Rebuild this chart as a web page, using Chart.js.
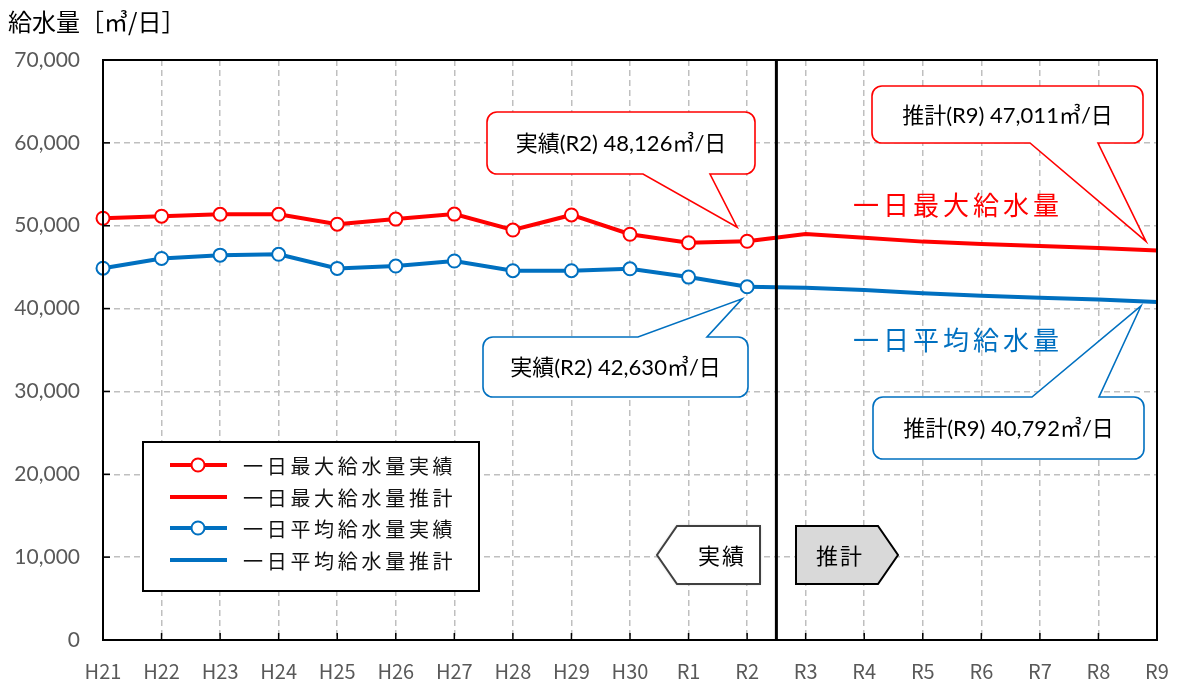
<!DOCTYPE html>
<html><head><meta charset="utf-8">
<script src="https://cdn.jsdelivr.net/npm/chart.js@4"></script>
<style>html,body{margin:0;padding:0;background:#fff;overflow:hidden}</style>
</head><body>
<canvas id="c" width="1178" height="686"></canvas>
<script>
// ---- data ----
const categories = ['H21','H22','H23','H24','H25','H26','H27','H28','H29','H30','R1','R2','R3','R4','R5','R6','R7','R8','R9'];
const maxActual   = [50900, 51150, 51380, 51380, 50180, 50800, 51400, 49480, 51300, 48970, 47950, 48126];
const avgActual   = [44870, 46050, 46450, 46550, 44850, 45130, 45740, 44570, 44570, 44800, 43800, 42630];
const maxForecast = [48126, 49000, 48560, 48080, 47800, 47550, 47300, 47011]; // R2..R9
const avgForecast = [42630, 42500, 42240, 41840, 41560, 41320, 41100, 40792]; // R2..R9
const seriesNames = ['一日最大給水量実績','一日最大給水量推計','一日平均給水量実績','一日平均給水量推計'];
const yTickValues = [0, 10000, 20000, 30000, 40000, 50000, 60000, 70000];
const yTitle = '給水量［㎥/日］';
const lastActualIdx = maxActual.length - 1;
const forecastStart = categories.length - maxForecast.length;

const RED = '#FF0000', BLUE = '#0070C0';
const fmt = v => v.toLocaleString('en-US');
const padF = arr => Array(forecastStart).fill(null).concat(arr);

const JP = "'Noto Sans CJK JP'";

function roundCallout(ctx, b, color, text, textFont) {
  const {l, t, r, bt, rad, ptr} = b;
  ctx.save();
  ctx.beginPath();
  ctx.moveTo(l + rad, t);
  if (ptr.side === 'top') {
    ctx.lineTo(ptr.a, t); ctx.lineTo(ptr.tx, ptr.ty); ctx.lineTo(ptr.b, t);
  }
  ctx.lineTo(r - rad, t);
  ctx.arcTo(r, t, r, t + rad, rad);
  ctx.lineTo(r, bt - rad);
  ctx.arcTo(r, bt, r - rad, bt, rad);
  if (ptr.side === 'bottom') {
    ctx.lineTo(ptr.b, bt); ctx.lineTo(ptr.tx, ptr.ty); ctx.lineTo(ptr.a, bt);
  }
  ctx.lineTo(l + rad, bt);
  ctx.arcTo(l, bt, l, bt - rad, rad);
  ctx.lineTo(l, t + rad);
  ctx.arcTo(l, t, l + rad, t, rad);
  ctx.closePath();
  ctx.fillStyle = '#fff';
  ctx.fill();
  ctx.lineWidth = 1.6;
  ctx.strokeStyle = color;
  ctx.lineJoin = 'miter';
  ctx.stroke();
  ctx.fillStyle = '#000';
  ctx.font = textFont;
  ctx.textAlign = 'center';
  ctx.textBaseline = 'middle';
  ctx.fillText(text, (l + r) / 2, (t + bt) / 2 + 1);
  ctx.restore();
}

const overlay = {
  id: 'overlay',
  afterDatasetsDraw(chart) {
    const ctx = chart.ctx;
    const ca = chart.chartArea;
    const xs = chart.scales.x, ys = chart.scales.y;

    // inward tick marks
    ctx.save();
    ctx.strokeStyle = '#000';
    ctx.lineWidth = 1.5;
    yTickValues.forEach(v => {
      const y = ys.getPixelForValue(v);
      ctx.beginPath(); ctx.moveTo(ca.left, y); ctx.lineTo(ca.left + 7, y); ctx.stroke();
    });
    categories.forEach((c, i) => {
      const x = xs.getPixelForValue(i);
      ctx.beginPath(); ctx.moveTo(x, ca.bottom); ctx.lineTo(x, ca.bottom - 7); ctx.stroke();
    });
    // frame
    ctx.lineWidth = 2;
    ctx.strokeRect(ca.left, ca.top, ca.right - ca.left, ca.bottom - ca.top);
    // divider between actual and forecast
    const xd = xs.getPixelForValue(lastActualIdx + 0.5);
    ctx.lineWidth = 3;
    ctx.beginPath(); ctx.moveTo(xd, ca.top); ctx.lineTo(xd, ca.bottom); ctx.stroke();
    ctx.restore();

    // callouts
    const cf = "22px Lato, " + JP;
    const xR2 = xs.getPixelForValue(lastActualIdx), xR9 = xs.getPixelForValue(categories.length - 1);
    roundCallout(ctx, {l: 487, t: 112, r: 755, bt: 174, rad: 10,
      ptr: {side: 'bottom', a: 643, b: 710, tx: xR2 - 10, ty: ys.getPixelForValue(maxActual[lastActualIdx]) - 14}},
      RED, `実績(${categories[lastActualIdx]}) ${fmt(maxActual[lastActualIdx])}㎥/日`, cf);
    roundCallout(ctx, {l: 872, t: 86, r: 1143, bt: 143, rad: 10,
      ptr: {side: 'bottom', a: 1030, b: 1098, tx: xR9 - 11, ty: ys.getPixelForValue(maxForecast[maxForecast.length - 1]) - 9}},
      RED, `推計(${categories[categories.length - 1]}) ${fmt(maxForecast[maxForecast.length - 1])}㎥/日`, cf);
    roundCallout(ctx, {l: 483, t: 337, r: 748, bt: 397, rad: 10,
      ptr: {side: 'top', a: 638, b: 707, tx: xR2 - 5, ty: ys.getPixelForValue(avgActual[lastActualIdx]) + 12}},
      BLUE, `実績(${categories[lastActualIdx]}) ${fmt(avgActual[lastActualIdx])}㎥/日`, cf);
    roundCallout(ctx, {l: 873, t: 397, r: 1144, bt: 459, rad: 10,
      ptr: {side: 'top', a: 1032, b: 1099, tx: xR9 - 16, ty: ys.getPixelForValue(avgForecast[avgForecast.length - 1]) + 4}},
      BLUE, `推計(${categories[categories.length - 1]}) ${fmt(avgForecast[avgForecast.length - 1])}㎥/日`, cf);

    // series labels
    ctx.save();
    ctx.font = "26px " + JP;
    ctx.letterSpacing = '4px';
    ctx.textBaseline = 'middle';
    ctx.textAlign = 'left';
    ctx.fillStyle = RED;
    ctx.fillText('一日最大給水量', 853, 205);
    ctx.fillStyle = BLUE;
    ctx.fillText('一日平均給水量', 853, 340);
    ctx.restore();

    // actual / forecast arrows
    ctx.save();
    ctx.lineJoin = 'miter';
    // 実績 (pointing left)
    ctx.beginPath();
    ctx.moveTo(677, 526); ctx.lineTo(760, 526); ctx.lineTo(760, 584); ctx.lineTo(677, 584); ctx.lineTo(657, 555); ctx.closePath();
    ctx.shadowColor = 'rgba(0,0,0,0.35)'; ctx.shadowBlur = 3;
    ctx.fillStyle = '#fff'; ctx.fill();
    ctx.shadowColor = 'transparent';
    ctx.strokeStyle = '#404040'; ctx.lineWidth = 2; ctx.stroke();
    // 推計 (pointing right)
    ctx.beginPath();
    ctx.moveTo(796, 526); ctx.lineTo(878, 526); ctx.lineTo(898, 555); ctx.lineTo(878, 584); ctx.lineTo(796, 584); ctx.closePath();
    ctx.fillStyle = '#D9D9D9'; ctx.fill();
    ctx.strokeStyle = '#000'; ctx.lineWidth = 2; ctx.stroke();
    ctx.fillStyle = '#000';
    ctx.font = "22px " + JP;
    ctx.letterSpacing = '2px';
    ctx.textAlign = 'center'; ctx.textBaseline = 'middle';
    ctx.fillText('実績', 722, 556);
    ctx.fillText('推計', 840, 556);
    ctx.restore();

    // legend
    ctx.save();
    ctx.fillStyle = '#fff';
    ctx.fillRect(143, 442, 336, 149);
    ctx.strokeStyle = '#000'; ctx.lineWidth = 2;
    ctx.strokeRect(143, 442, 336, 149);
    const rowsY = [465, 497, 528, 560];
    chart.data.datasets.forEach((ds, i) => {
      const y = rowsY[i];
      ctx.strokeStyle = ds.borderColor; ctx.lineWidth = 4; ctx.lineCap = 'butt';
      ctx.beginPath(); ctx.moveTo(170, y); ctx.lineTo(227, y); ctx.stroke();
      if (ds.pointRadius > 0) {
        ctx.beginPath(); ctx.arc(198, y, 6.5, 0, Math.PI * 2);
        ctx.fillStyle = '#fff'; ctx.fill();
        ctx.lineWidth = 2; ctx.strokeStyle = ds.borderColor; ctx.stroke();
      }
      ctx.fillStyle = '#111';
      ctx.font = "20px " + JP;
      ctx.letterSpacing = '3.7px';
      ctx.textAlign = 'left'; ctx.textBaseline = 'middle';
      ctx.fillText(ds.label, 243, y + 1);
      ctx.letterSpacing = '0px';
    });
    ctx.restore();

    // y title
    ctx.save();
    ctx.fillStyle = '#000';
    ctx.font = "24px " + JP;
    ctx.textAlign = 'left'; ctx.textBaseline = 'middle';
    ctx.fillText(yTitle, 8, 22);
    ctx.restore();
  }
};

new Chart(document.getElementById('c'), {
  type: 'line',
  data: {
    labels: categories,
    datasets: [
      {label: seriesNames[0], data: maxActual, borderColor: RED, backgroundColor: RED, borderWidth: 4,
       pointRadius: 6.5, pointBackgroundColor: '#fff', pointBorderColor: RED, pointBorderWidth: 2, tension: 0},
      {label: seriesNames[1], data: padF(maxForecast), borderColor: RED, backgroundColor: RED, borderWidth: 4,
       pointRadius: 0, tension: 0},
      {label: seriesNames[2], data: avgActual, borderColor: BLUE, backgroundColor: BLUE, borderWidth: 4,
       pointRadius: 6.5, pointBackgroundColor: '#fff', pointBorderColor: BLUE, pointBorderWidth: 2, tension: 0},
      {label: seriesNames[3], data: padF(avgForecast), borderColor: BLUE, backgroundColor: BLUE, borderWidth: 4,
       pointRadius: 0, tension: 0}
    ]
  },
  options: {
    responsive: false,
    animation: false,
    devicePixelRatio: 1,
    layout: {autoPadding: false, padding: {top: 60, right: 21, left: 0, bottom: 0}},
    plugins: {legend: {display: false}, tooltip: {enabled: false}},
    scales: {
      x: {
        type: 'category',
        offset: false,
        grid: {color: '#BFBFBF', lineWidth: 1.5, drawTicks: false},
        border: {display: true, color: '#000', width: 2, dash: [6, 4]},
        ticks: {color: '#595959', font: {family: JP, size: 20}, padding: 19, maxRotation: 0, autoSkip: false},
        afterFit(s) { s.height = 46; s.paddingLeft = 0; s.paddingRight = 0; }
      },
      y: {
        min: 0, max: 70000,
        grid: {color: '#BFBFBF', lineWidth: 1.5, drawTicks: false},
        border: {display: true, color: '#000', width: 2, dash: [6, 4]},
        ticks: {stepSize: 10000, color: '#595959', font: {family: 'Lato', size: 21}, padding: 23,
                callback: v => fmt(v)},
        afterFit(s) { s.width = 103; s.paddingTop = 0; s.paddingBottom = 0; }
      }
    }
  },
  plugins: [overlay]
});
</script>
</body></html>
